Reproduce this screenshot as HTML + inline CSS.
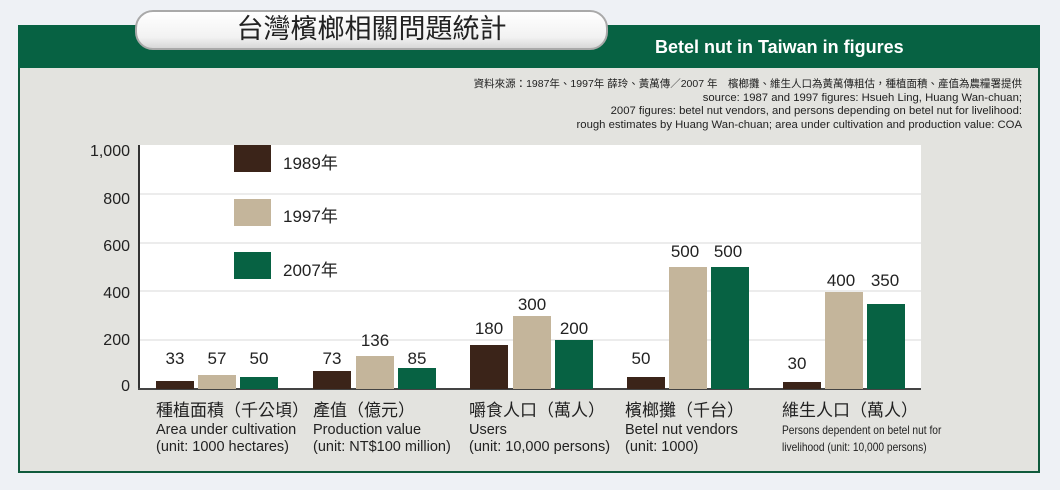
<!DOCTYPE html>
<html><head><meta charset="utf-8"><style>
*{margin:0;padding:0;box-sizing:border-box}
body{width:1060px;height:490px;background:#eef1f5;position:relative;overflow:hidden;font-family:"Liberation Sans","Noto Sans CJK TC",sans-serif;color:#222}
.a{position:absolute}
.bar{position:absolute;width:38px}
.b{background:#3b2419}.t{background:#c4b59b}.g{background:#076243}
.v{position:absolute;font-size:17px;width:60px;text-align:center}
.yl{position:absolute;right:930px;font-size:16px;text-align:right}
.grid{position:absolute;left:140px;width:781px;height:2px;background:#ececec}
.cat{position:absolute;top:402px;font-size:14.5px;line-height:17px}
.cat .z{font-size:17px;margin-bottom:3px}
</style></head><body>
<div class="a" style="left:18px;top:25px;width:1022px;height:43px;background:#076243"></div>
<div class="a" style="left:18px;top:68px;width:1022px;height:405px;background:#e3e3df;border:2px solid #0f5a3c;border-top:none"></div>
<div class="a" style="left:135px;top:10px;width:473px;height:40px;border-radius:18px;background:linear-gradient(#fff,#f2f2f2 70%,#d8d8d8);border:2px solid #a9a9a9;text-align:center;font-size:27px;line-height:35px;color:#222">台灣檳榔相關問題統計</div>
<div class="a" style="left:655px;top:37px;font-size:18px;font-weight:bold;color:#fff">Betel nut in Taiwan in figures</div>
<div class="a" style="right:38px;top:78px;font-size:11.3px;line-height:13.5px;text-align:right;color:#222">
<div style="font-size:10.5px">資料來源：1987年、1997年 薛玲、黃萬傳／2007 年　檳榔攤、維生人口為黃萬傳粗估，種植面積、產值為農糧署提供</div>
<div>source: 1987 and 1997 figures: Hsueh Ling, Huang Wan-chuan;</div>
<div>2007 figures: betel nut vendors, and persons depending on betel nut for livelihood:</div>
<div>rough estimates by Huang Wan-chuan; area under cultivation and production value: COA</div></div>
<div class="a" style="left:140px;top:145px;width:781px;height:244px;background:#fff"></div>
<div class="grid" style="top:193px"></div><div class="grid" style="top:242px"></div><div class="grid" style="top:290px"></div><div class="grid" style="top:339px"></div>
<div class="a" style="left:138px;top:145px;width:2px;height:244px;background:#333"></div>
<div class="a" style="left:138px;top:388px;width:783px;height:2px;background:#444"></div>
<div class="yl" style="top:143px">1,000</div><div class="yl" style="top:191px">800</div><div class="yl" style="top:238px">600</div><div class="yl" style="top:285px">400</div><div class="yl" style="top:332px">200</div><div class="yl" style="top:378px">0</div>
<div class="a b" style="left:234px;top:145px;width:37px;height:27px"></div><div class="a" style="left:283px;top:149px;font-size:17px">1989年</div>
<div class="a t" style="left:234px;top:199px;width:37px;height:27px"></div><div class="a" style="left:283px;top:202px;font-size:17px">1997年</div>
<div class="a g" style="left:234px;top:252px;width:37px;height:27px"></div><div class="a" style="left:283px;top:256px;font-size:17px">2007年</div>
<div class="bar b" style="left:156px;top:381px;height:8px"></div><div class="v" style="left:145px;top:349px">33</div>
<div class="bar t" style="left:198px;top:375px;height:14px"></div><div class="v" style="left:187px;top:349px">57</div>
<div class="bar g" style="left:240px;top:377px;height:12px"></div><div class="v" style="left:229px;top:349px">50</div>
<div class="bar b" style="left:313px;top:371px;height:18px"></div><div class="v" style="left:302px;top:349px">73</div>
<div class="bar t" style="left:356px;top:356px;height:33px"></div><div class="v" style="left:345px;top:331px">136</div>
<div class="bar g" style="left:398px;top:368px;height:21px"></div><div class="v" style="left:387px;top:349px">85</div>
<div class="bar b" style="left:470px;top:345px;height:44px"></div><div class="v" style="left:459px;top:319px">180</div>
<div class="bar t" style="left:513px;top:316px;height:73px"></div><div class="v" style="left:502px;top:295px">300</div>
<div class="bar g" style="left:555px;top:340px;height:49px"></div><div class="v" style="left:544px;top:319px">200</div>
<div class="bar b" style="left:627px;top:377px;height:12px"></div><div class="v" style="left:611px;top:349px">50</div>
<div class="bar t" style="left:669px;top:267px;height:122px"></div><div class="v" style="left:655px;top:242px">500</div>
<div class="bar g" style="left:711px;top:267px;height:122px"></div><div class="v" style="left:698px;top:242px">500</div>
<div class="bar b" style="left:783px;top:382px;height:7px"></div><div class="v" style="left:767px;top:354px">30</div>
<div class="bar t" style="left:825px;top:292px;height:97px"></div><div class="v" style="left:811px;top:271px">400</div>
<div class="bar g" style="left:867px;top:304px;height:85px"></div><div class="v" style="left:855px;top:271px">350</div>
<div class="cat" style="left:156px"><div class="z">種植面積（千公頃）</div>Area under cultivation<br>(unit: 1000 hectares)</div>
<div class="cat" style="left:313px"><div class="z">產值（億元）</div>Production value<br>(unit: NT$100 million)</div>
<div class="cat" style="left:469px"><div class="z">嚼食人口（萬人）</div>Users<br>(unit: 10,000 persons)</div>
<div class="cat" style="left:625px"><div class="z">檳榔攤（千台）</div>Betel nut vendors<br>(unit: 1000)</div>
<div class="cat" style="left:782px"><div class="z">維生人口（萬人）</div><span style="font-size:12px;line-height:17px;display:block;transform:scaleX(.85);transform-origin:left;white-space:nowrap">Persons dependent on betel nut for<br>livelihood (unit: 10,000 persons)</span></div>
</body></html>
